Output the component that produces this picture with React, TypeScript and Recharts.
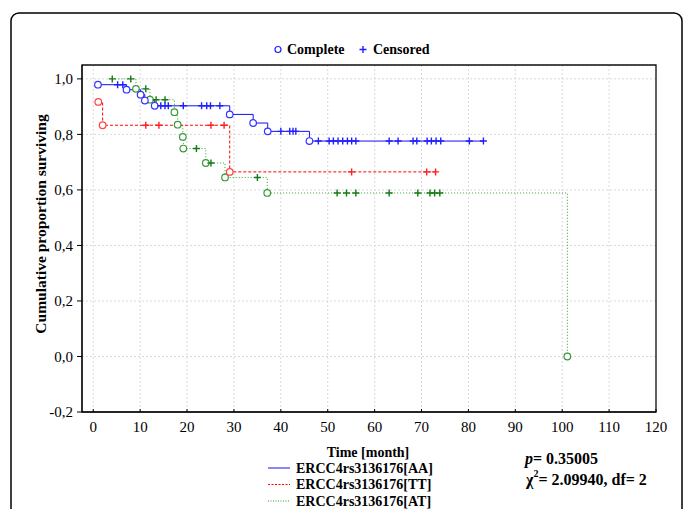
import { ComposedChart, Line, XAxis, YAxis, CartesianGrid, ReferenceArea } from 'recharts';

// event times (month) and survival after the event
const aaEvents: [number, number][] = [
  [1.0, 0.979], [7.1, 0.961], [10.1, 0.943], [11.0, 0.922], [13.1, 0.903],
  [29.1, 0.872], [34.1, 0.841], [37.2, 0.811], [46.1, 0.776],
];
const aaCensored = [
  5.2, 6.3, 14.4, 15.3, 16.0, 19.2, 23.1, 24.2, 25.0, 27.0, 40.0, 41.9, 42.6, 43.2,
  48.0, 50.3, 51.2, 52.2, 53.2, 54.2, 55.1, 56.0, 63.1, 65.0, 68.2, 69.0, 71.2, 72.1,
  73.1, 74.1, 80.2, 83.2,
];

const ttEvents: [number, number][] = [[1.07, 0.917], [2.0, 0.833], [29.1, 0.665]];
const ttCensored = [11.2, 14.0, 25.1, 27.9, 55.1, 71.1, 73.0];

const atEvents: [number, number][] = [
  [9.1, 0.964], [12.1, 0.925], [17.3, 0.88], [18.0, 0.835], [19.1, 0.791], [19.2, 0.749],
  [24.0, 0.697], [28.1, 0.645], [37.1, 0.589], [101.1, 0.0],
];
const atCensored = [
  4.05, 8.0, 11.2, 13.4, 15.3, 22.0, 25.1, 35.0, 52.0, 54.0, 56.0, 63.1, 69.2, 71.8, 72.8, 73.9,
];

const xTicks = [0, 10, 20, 30, 40, 50, 60, 70, 80, 90, 100, 110, 120];
const yTicks = [-0.2, 0, 0.2, 0.4, 0.6, 0.8, 1.0];

const groups = ['ERCC4rs3136176[AA]', 'ERCC4rs3136176[TT]', 'ERCC4rs3136176[AT]'];

type Pt = { t: number; s: number; kind: 'event' | 'censor' };

// merge events and censored times into one KM step curve
const buildCurve = (events: [number, number][], censored: number[]): Pt[] => {
  const pts: Pt[] = [
    ...events.map(([t, s]) => ({ t, s, kind: 'event' as const })),
    ...censored.map((t) => ({ t, s: 1, kind: 'censor' as const })),
  ].sort((a, b) => a.t - b.t);
  let level = 1;
  for (const p of pts) {
    if (p.kind === 'event') level = p.s;
    else p.s = level;
  }
  return pts;
};

const aaData = buildCurve(aaEvents, aaCensored);
const ttData = buildCurve(ttEvents, ttCensored);
const atData = buildCurve(atEvents, atCensored);

const FONT = '"Liberation Serif", "Times New Roman", serif';

const makeDot = (circleColor: string, plusColor: string) => (props: any) => {
  const { cx, cy, payload, index } = props;
  if (cx == null || cy == null) return <g key={index} />;
  if (payload.kind === 'event') {
    return <circle key={index} cx={cx} cy={cy} r={3.3} fill="#fff" stroke={circleColor} strokeWidth={1.2} />;
  }
  return (
    <path
      key={index}
      d={`M${cx - 3.5},${cy}H${cx + 3.5}M${cx},${cy - 3.5}V${cy + 3.5}`}
      stroke={plusColor}
      strokeWidth={1.4}
      fill="none"
    />
  );
};

const fmtY = (v: number) => v.toFixed(1).replace('.', ',');

const App = () => {
  return (
    <div style={{ position: 'absolute', left: 0, top: 0, width: 683, height: 509, overflow: 'hidden', background: '#fff' }}>
      <ComposedChart
        width={683}
        height={509}
        margin={{ top: 65, right: 27, bottom: 67, left: 22 }}
        style={{ position: 'absolute', left: 0, top: 0 }}
      >
        <CartesianGrid stroke="#d8d8d8" strokeDasharray="2 2" />
        <XAxis
          dataKey="t"
          type="number"
          domain={[-2.4, 120]}
          ticks={xTicks}
          allowDataOverflow
          height={30}
          tickSize={-3}
          tickMargin={12}
          axisLine={{ stroke: '#000' }}
          tickLine={{ stroke: '#000' }}
          tick={{ fontSize: 15, fill: '#000', fontFamily: FONT }}
        />
        <XAxis
          xAxisId="top"
          orientation="top"
          dataKey="t"
          type="number"
          domain={[-2.4, 120]}
          ticks={xTicks}
          allowDataOverflow
          height={0}
          tickSize={-3}
          tickFormatter={() => ''}
          axisLine={false}
          tickLine={{ stroke: '#000' }}
        />
        <YAxis
          type="number"
          domain={[-0.2, 1.05]}
          ticks={yTicks}
          allowDataOverflow
          width={60}
          tickSize={5}
          tickMargin={4}
          tickFormatter={fmtY}
          axisLine={{ stroke: '#000' }}
          tickLine={{ stroke: '#000' }}
          tick={{ fontSize: 15, fill: '#000', fontFamily: FONT }}
        />
        <YAxis
          yAxisId="right"
          orientation="right"
          type="number"
          domain={[-0.2, 1.05]}
          ticks={yTicks}
          allowDataOverflow
          width={0}
          tickSize={-3}
          tickFormatter={() => ''}
          axisLine={false}
          tickLine={{ stroke: '#000' }}
        />
        <ReferenceArea x1={-2.4} x2={120} y1={-0.2} y2={1.05} fill="none" stroke="#111" strokeWidth={1.3} ifOverflow="visible" />
        <Line
          data={atData}
          dataKey="s"
          type="stepAfter"
          stroke="#2f9e2f"
          strokeWidth={1}
          strokeDasharray="1 2"
          dot={makeDot('#3a9a3a', '#157a15')}
          activeDot={false}
          isAnimationActive={false}
        />
        <Line
          data={ttData}
          dataKey="s"
          type="stepAfter"
          stroke="#ff0000"
          strokeWidth={1}
          strokeDasharray="3 2"
          dot={makeDot('#ff4545', '#ff2020')}
          activeDot={false}
          isAnimationActive={false}
        />
        <Line
          data={aaData}
          dataKey="s"
          type="stepAfter"
          stroke="#1010f0"
          strokeWidth={1}
          dot={makeDot('#3535ff', '#2020ff')}
          activeDot={false}
          isAnimationActive={false}
        />
      </ComposedChart>

      <svg width={683} height={509} style={{ position: 'absolute', left: 0, top: 0, pointerEvents: 'none' }} fontFamily={FONT}>
        <rect x={11} y={13} width={671} height={530} rx={8} fill="none" stroke="#000" strokeWidth={1.5} />

        <circle cx={278} cy={49.5} r={3} fill="none" stroke="#2020ff" strokeWidth={1.2} />
        <text x={287} y={49.5} dominantBaseline="central" fontSize={14} fontWeight="bold">Complete</text>
        <path d="M359.5,49.5H366.5M363,46V53" stroke="#2020ff" strokeWidth={1.4} />
        <text x={373} y={49.5} dominantBaseline="central" fontSize={14} fontWeight="bold">Censored</text>

        <text x={40} y={224} transform="rotate(-90 40 224)" textAnchor="middle" dominantBaseline="central" fontSize={15.5} fontWeight="bold">
          Cumulative proportion surviving
        </text>

        <text x={368} y={452} textAnchor="middle" dominantBaseline="central" fontSize={14} fontWeight="bold">Time [month]</text>

        <line x1={268} x2={290} y1={468} y2={468} stroke="#1010f0" strokeWidth={1} />
        <line x1={268} x2={290} y1={484.5} y2={484.5} stroke="#ff0000" strokeWidth={1} strokeDasharray="2 1.5" />
        <line x1={268} x2={290} y1={501} y2={501} stroke="#2f9e2f" strokeWidth={1} strokeDasharray="1 1.5" />
        {groups.map((g, i) => (
          <text key={g} x={296} y={468 + i * 16.5} dominantBaseline="central" fontSize={14} fontWeight="bold">{g}</text>
        ))}

        <text x={525} y={458} dominantBaseline="central" fontSize={16} fontWeight="bold">
          <tspan fontStyle="italic">p</tspan>= 0.35005
        </text>
        <text x={526} y={479} dominantBaseline="central" fontSize={16} fontWeight="bold">
          χ<tspan dy={-6} fontSize={10}>2</tspan><tspan dy={6}>= 2.09940, df= 2</tspan>
        </text>
      </svg>
    </div>
  );
};

export default App;
